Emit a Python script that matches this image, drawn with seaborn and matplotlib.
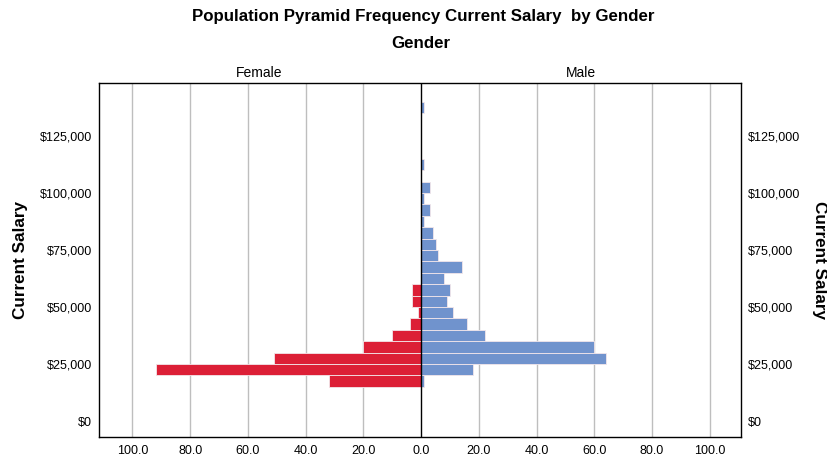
import numpy as np
import pandas as pd
import matplotlib
matplotlib.use("Agg")
import matplotlib.pyplot as plt
import matplotlib.ticker as mticker
import seaborn as sns

# ---- data (bins of $5,000, lower edges) ----
female_bins = [15000, 20000, 25000, 30000, 35000, 40000, 45000, 50000, 55000]
female_counts = [32, 92, 51, 20, 10, 4, 1, 3, 3]

male_bins = [15000, 20000, 25000, 30000, 35000, 40000, 45000, 50000, 55000,
             60000, 65000, 70000, 75000, 80000, 85000, 90000, 95000, 100000,
             110000, 135000]
male_counts = [1, 18, 64, 60, 22, 16, 11, 9, 10,
               8, 14, 6, 5, 4, 1, 3, 1, 3,
               1, 1]

bin_width = 5000
x_ticks = [-100, -80, -60, -40, -20, 0, 20, 40, 60, 80, 100]
y_ticks = [0, 25000, 50000, 75000, 100000, 125000]

female_color = "#DC1F36"
male_color = "#7093CD"

rows = []
for b, c in zip(female_bins, female_counts):
    rows.append({"center": b + bin_width / 2, "value": -c, "gender": "Female"})
for b, c in zip(male_bins, male_counts):
    rows.append({"center": b + bin_width / 2, "value": c, "gender": "Male"})
df = pd.DataFrame(rows)

sns.set_theme(style="white")
plt.rcParams["font.family"] = ["Liberation Sans", "DejaVu Sans"]
plt.rcParams["text.color"] = "black"
plt.rcParams["xtick.color"] = "black"
plt.rcParams["ytick.color"] = "black"

fig = plt.figure(figsize=(8.28, 4.59), dpi=100)
ax = fig.add_axes([99 / 828, 22 / 459, 642 / 828, 354 / 459])

# grid lines
for xt in x_ticks:
    if xt != 0:
        ax.axvline(xt, color="#BEBEBE", lw=1.0, zorder=0)

sns.barplot(data=df, x="value", y="center", hue="gender", orient="h",
            native_scale=True, dodge=False, width=1.0, saturation=1,
            palette={"Female": female_color, "Male": male_color},
            edgecolor="#F2E6EA", linewidth=0.6, legend=False, ax=ax, zorder=2)

ax.axvline(0, color="black", lw=1.0, zorder=3)

ax.set_xlim(-111.6, 110.8)
ax.set_ylim(-7000, 148250)

ax.set_xticks(x_ticks)
ax.xaxis.set_major_formatter(mticker.FuncFormatter(lambda v, p: f"{abs(v):.1f}"))
ax.set_yticks(y_ticks)
ax.yaxis.set_major_formatter(mticker.FuncFormatter(lambda v, p: f"${v:,.0f}"))

ax.tick_params(axis="both", length=0, labelsize=9, colors="black")
ax.tick_params(axis="y", labelright=True, pad=5)
ax.tick_params(axis="x", pad=6)
ax.set_xlabel("")
ax.set_ylabel("")

for s in ax.spines.values():
    s.set_visible(True)
    s.set_color("black")
    s.set_linewidth(1.0)

# titles and labels
fig.text(423 / 828, 1 - 17 / 459, "Population Pyramid Frequency Current Salary  by Gender",
         ha="center", va="center", fontsize=12.2, fontweight="bold", color="black")
fig.text(421 / 828, 1 - 44 / 459, "Gender", ha="center", va="center",
         fontsize=12.2, fontweight="bold", color="black")
fig.text(259 / 828, 1 - 73 / 459, "Female", ha="center", va="center", fontsize=10, color="black")
fig.text(581 / 828, 1 - 73 / 459, "Male", ha="center", va="center", fontsize=10, color="black")
fig.text(21 / 828, 1 - 260 / 459, "Current Salary", ha="center", va="center",
         rotation=90, fontsize=12.3, fontweight="bold", color="black")
fig.text(820 / 828, 1 - 260 / 459, "Current Salary", ha="center", va="center",
         rotation=270, fontsize=12.3, fontweight="bold", color="black")

fig.savefig("out.png", dpi=100)
